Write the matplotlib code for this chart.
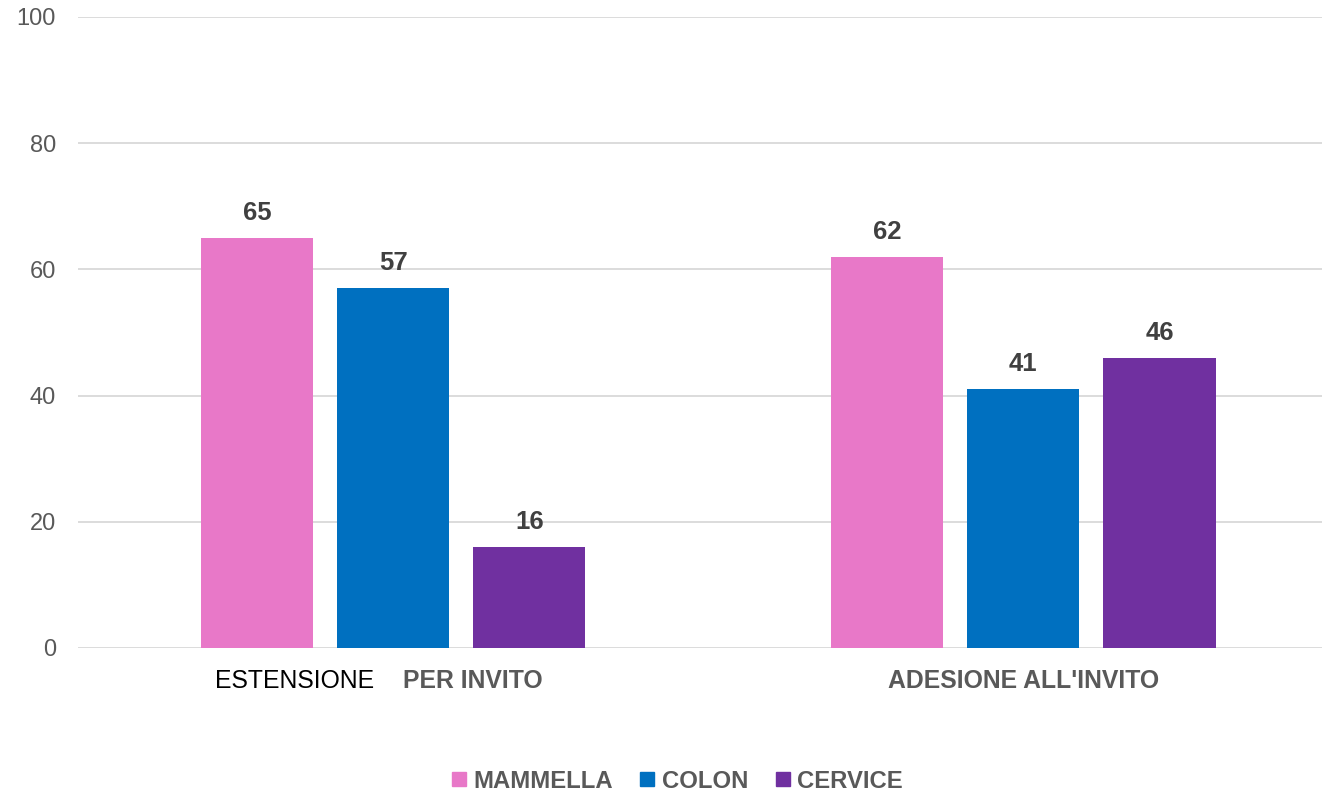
import matplotlib.pyplot as plt
import numpy as np
from matplotlib.lines import Line2D

plt.rcParams['font.family'] = ['Liberation Sans', 'DejaVu Sans']

# dati
gruppi = ['ESTENSIONE PER INVITO', "ADESIONE ALL'INVITO"]
serie = ['MAMMELLA', 'COLON', 'CERVICE']
mammella = [65, 62]
colon = [57, 41]
cervice = [16, 46]
colori = ['#E878C8', '#0070C0', '#7030A0']
yticks = [0, 20, 40, 60, 80, 100]

fig = plt.figure(figsize=(13.24, 7.93), dpi=100)
ax = fig.add_axes([0.0589, 0.1829, 0.9396, 0.7957])

x = np.arange(len(gruppi))
w = 0.178
passo = 0.216
for i, (vals, col) in enumerate(zip([mammella, colon, cervice], colori)):
    pos = x + (i - 1) * passo
    ax.bar(pos, vals, width=w, color=col, zorder=3)
    for px, v in zip(pos, vals):
        ax.annotate(str(v), (px, v), xytext=(0, 18), textcoords='offset points',
                    ha='center', va='center', fontsize=18.5, fontweight='bold',
                    color='#404040')

ax.set_ylim(0, 100)
ax.set_xlim(-0.5, 1.474)
ax.set_yticks(yticks)
ax.tick_params(axis='y', length=0, labelsize=17, labelcolor='#595959', pad=16)
ax.grid(axis='y', color='#D9D9D9', linewidth=1.3, zorder=0)
for s in ax.spines.values():
    s.set_visible(False)
ax.set_xticks([])

# etichette categorie (la prima ha due stili diversi)
ax.text(-0.156, -5.2, 'ESTENSIONE', ha='center', va='center', fontsize=17.8,
        color='black')
ax.text(0.127, -5.2, 'PER INVITO', ha='center', va='center', fontsize=17.8,
        fontweight='bold', color='#595959')
ax.text(1.0, -5.2, "ADESIONE ALL'INVITO", ha='center', va='center', fontsize=17.8,
        fontweight='bold', color='#595959')

handles = [Line2D([], [], marker='s', linestyle='none', markersize=9.5,
                  markerfacecolor=c, markeredgecolor=c) for c in colori]
leg = fig.legend(handles, serie, loc='center', bbox_to_anchor=(0.511, 0.015),
                 ncol=3, frameon=False, handlelength=0.7, handletextpad=0.25,
                 columnspacing=1.1, prop={'size': 17.2, 'weight': 'bold'})
for t in leg.get_texts():
    t.set_color('#595959')

fig.savefig('out.png', dpi=100)
